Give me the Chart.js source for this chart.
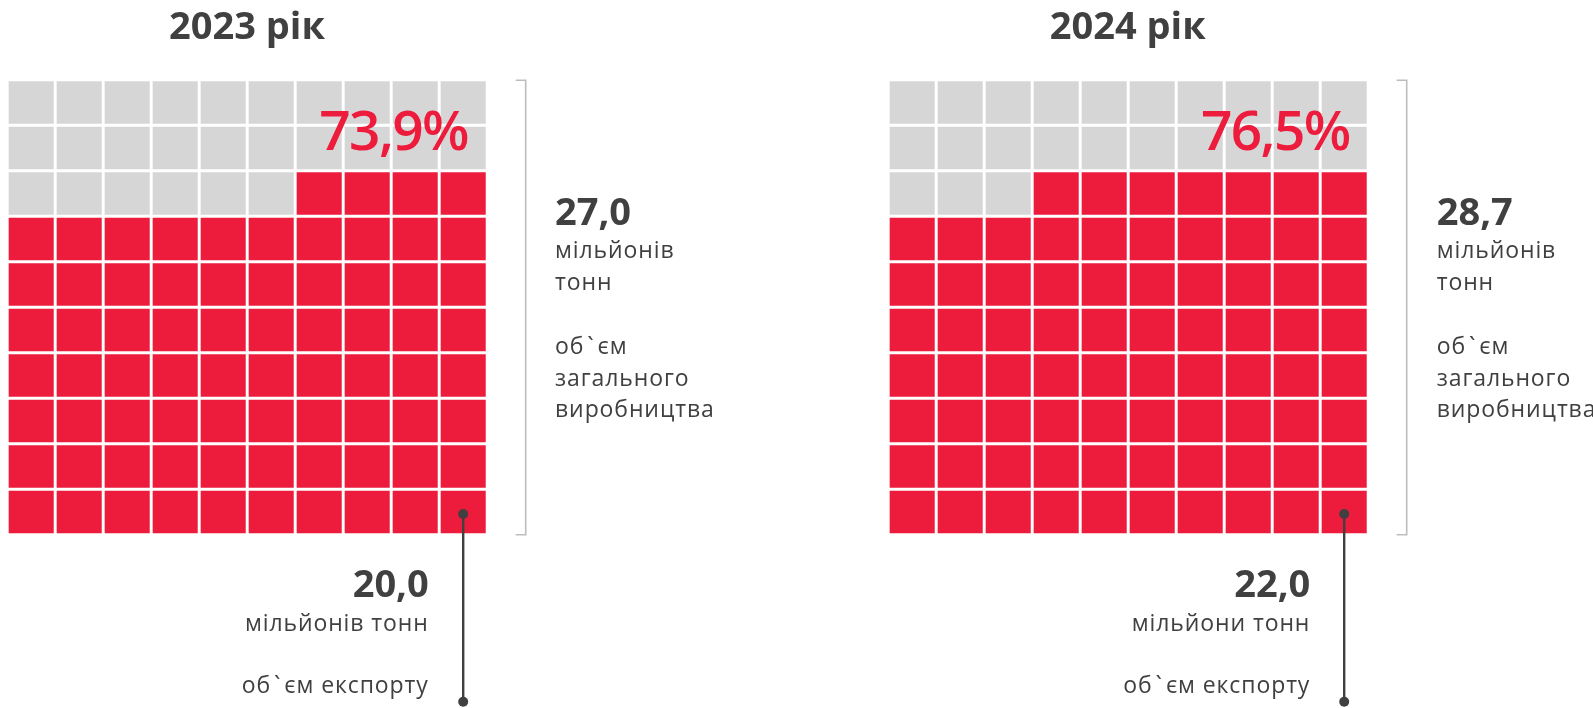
<!DOCTYPE html>
<html><head><meta charset="utf-8">
<script src="https://cdn.jsdelivr.net/npm/chart.js@4.4.0/dist/chart.umd.min.js"></script>
<style>
html,body{margin:0;padding:0;background:#fff;width:1593px;height:708px;overflow:hidden;font-family:"Open Sans","Noto Sans",sans-serif;color:#404040}
canvas{position:absolute;left:0;top:0}
.t{position:absolute;white-space:nowrap;line-height:1}
.title{font-weight:700;font-size:38px;text-align:center;width:400px}
.pct{font-size:55px;color:#ED1B3C;text-align:right;width:300px;font-weight:600;letter-spacing:-1.6px}
.big{font-weight:700;font-size:38px}
.side{font-size:23px;line-height:31.8px;white-space:pre;letter-spacing:0.9px}
.bnum{font-weight:700;font-size:38px;text-align:right;width:300px}
.bl{font-size:23px;text-align:right;width:300px;letter-spacing:0.9px}
.bt{margin:0 3px}
</style></head><body>
<canvas id="c0" width="1593" height="708"></canvas>
<canvas id="c1" width="1593" height="708"></canvas>
<div id="texts"></div>
<script>
// ---- data ----
const years = ['2023 рік', '2024 рік'];
const exportSharePct = [73.9, 76.5];          // share of exports in total production, %
const totalProduction = [27.0, 28.7];         // million tonnes
const exportVolume = [20.0, 22.0];            // million tonnes
const exportUnit = ['мільйонів тонн', 'мільйони тонн'];
const productionUnit = ['мільйонів\nтонн', 'мільйонів\nтонн'];
const productionCaption = 'об`єм\nзагального\nвиробництва';
const exportCaption = 'об`єм експорту';
const gridColumns = ['1','2','3','4','5','6','7','8','9','10'];
const gridRows = ['1','2','3','4','5','6','7','8','9','10'];

// ---- style / layout ----
const RED = '#ED1B3C', GREY = '#D6D6D6', DARK = '#404040', BRACKET = '#BDBDBD';
const W = 1593, H = 708;
const gridLeft = [9, 890];
const gridTop = 81.5, gridBottom = 533;
const cellPitchX = 48, halfGap = 1.8;
const fmt = v => v.toFixed(1).replace('.', ',');

const decor = {
  id: 'decor',
  afterDraw(chart) {
    const ctx = chart.ctx, a = chart.chartArea;
    ctx.save();
    ctx.strokeStyle = BRACKET; ctx.lineWidth = 1.6;
    const bx = a.right + 38.5;
    ctx.beginPath();
    ctx.moveTo(bx - 10, a.top + 0.5); ctx.lineTo(bx, a.top + 0.5);
    ctx.lineTo(bx, a.bottom); ctx.lineTo(bx - 10, a.bottom);
    ctx.stroke();
    const el = chart.getDatasetMeta(0).data[gridColumns.length - 1];
    const cx = el.x, cy = (el.y + el.base) / 2 + 2;
    ctx.strokeStyle = DARK; ctx.fillStyle = DARK; ctx.lineWidth = 2.4;
    ctx.beginPath(); ctx.moveTo(cx, cy); ctx.lineTo(cx, 701.7); ctx.stroke();
    [cy, 701.7].forEach(y => { ctx.beginPath(); ctx.arc(cx, y, 5, 0, Math.PI * 2); ctx.fill(); });
    ctx.restore();
  }
};

years.forEach((yr, i) => {
  const filled = Math.round(exportSharePct[i]);
  const nC = gridColumns.length;
  const datasets = gridRows.map((r, ri) => ({
    label: r,
    data: gridColumns.map(() => 1),
    backgroundColor: gridColumns.map((c, ci) => (ri * nC + (nC - 1 - ci)) < filled ? RED : GREY),
    borderColor: '#fff', borderWidth: halfGap, borderSkipped: false,
    barPercentage: 1, categoryPercentage: 1, stack: 's'
  }));
  const left = gridLeft[i] - halfGap;
  const right = W - (gridLeft[i] + cellPitchX * nC - halfGap);
  new Chart(document.getElementById('c' + i), {
    type: 'bar',
    data: { labels: gridColumns, datasets },
    options: {
      responsive: false, animation: false, events: [],
      layout: { padding: { left, right, top: gridTop - halfGap, bottom: H - gridBottom - halfGap } },
      scales: {
        x: { display: false, stacked: true },
        y: { display: false, stacked: true, min: 0, max: gridRows.length }
      },
      plugins: { legend: { display: false }, tooltip: { enabled: false } }
    },
    plugins: [decor]
  });
});

// ---- texts ----
const T = document.getElementById('texts');
function esc(s) { return s.replace(/&/g, '&amp;').replace(/</g, '&lt;'); }
function add(cls, text, left, top) {
  const d = document.createElement('div');
  d.className = 't ' + cls;
  d.innerHTML = esc(text).replace(/`/g, '<span class="bt">`</span>');
  d.style.left = left + 'px'; d.style.top = top + 'px';
  T.appendChild(d);
}
const titleCenter = [247, 1127.7];
const pctRight = [466, 1347.7];
const sideX = [555, 1436.7];
const bottomRight = [427.7, 1309.3];
years.forEach((yr, i) => {
  add('title', yr, titleCenter[i] - 200, 38.6 - 0.888 * 38);
  add('pct', fmt(exportSharePct[i]) + '%', pctRight[i] - 300 + 2, 149.8 - 0.888 * 55);
  add('big', fmt(totalProduction[i]), sideX[i], 225 - 0.888 * 38);
  add('side', productionUnit[i] + '\n\n' + productionCaption, sideX[i], 259.3 - (31.8 - 1.362 * 23) / 2 - 1.069 * 23);
  add('bnum', fmt(exportVolume[i]), bottomRight[i] - 300 + 1, 596.7 - 0.888 * 38);
  add('bl', exportUnit[i], bottomRight[i] - 300 + 1, 631.7 - 0.888 * 23);
  add('bl', exportCaption, bottomRight[i] - 300 + 1, 693 - 0.888 * 23);
});
</script>
</body></html>
